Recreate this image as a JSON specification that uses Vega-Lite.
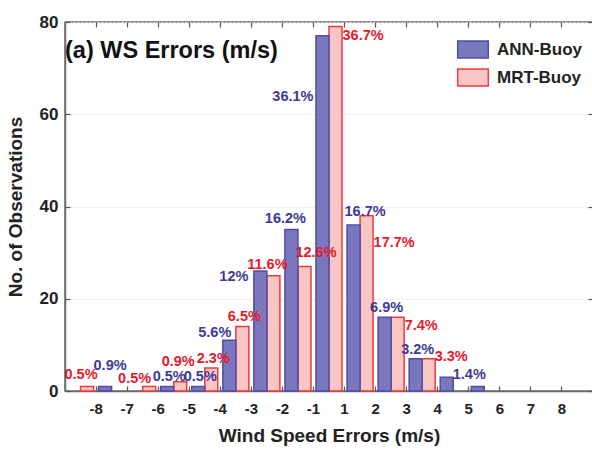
{
  "$schema": "https://vega.github.io/schema/vega-lite/v6.json",
  "width": 528,
  "height": 369,
  "autosize": {"type": "none"},
  "padding": {"left": 65, "top": 22, "right": 0, "bottom": 58},
  "background": "white",
  "config": {
    "font": "Liberation Sans",
    "view": {"stroke": "#6b6b6b", "strokeWidth": 1.5}
  },
  "title": {
    "text": "(a) WS Errors (m/s)",
    "anchor": "start",
    "frame": "group",
    "orient": "top",
    "offset": 0,
    "dx": 0,
    "dy": 49,
    "fontSize": 23.5,
    "fontWeight": "bold",
    "color": "#111111",
    "font": "Liberation Sans"
  },
  "data": {
    "values": [
      {"bin": -8, "series": "MRT-Buoy", "count": 1, "pct": "0.5%"},
      {"bin": -6, "series": "MRT-Buoy", "count": 1, "pct": "0.5%"},
      {"bin": -5, "series": "MRT-Buoy", "count": 2, "pct": "0.9%"},
      {"bin": -4, "series": "MRT-Buoy", "count": 5, "pct": "2.3%"},
      {"bin": -3, "series": "MRT-Buoy", "count": 14, "pct": "6.5%"},
      {"bin": -2, "series": "MRT-Buoy", "count": 25, "pct": "11.6%"},
      {"bin": -1, "series": "MRT-Buoy", "count": 27, "pct": "12.6%"},
      {"bin": 1, "series": "MRT-Buoy", "count": 79, "pct": "36.7%"},
      {"bin": 2, "series": "MRT-Buoy", "count": 38, "pct": "17.7%"},
      {"bin": 3, "series": "MRT-Buoy", "count": 16, "pct": "7.4%"},
      {"bin": 4, "series": "MRT-Buoy", "count": 7, "pct": "3.3%"},
      {"bin": -8, "series": "ANN-Buoy", "count": 1, "pct": "0.9%"},
      {"bin": -6, "series": "ANN-Buoy", "count": 1, "pct": "0.5%"},
      {"bin": -5, "series": "ANN-Buoy", "count": 1, "pct": "0.5%"},
      {"bin": -4, "series": "ANN-Buoy", "count": 11, "pct": "5.6%"},
      {"bin": -3, "series": "ANN-Buoy", "count": 26, "pct": "12%"},
      {"bin": -2, "series": "ANN-Buoy", "count": 35, "pct": "16.2%"},
      {"bin": -1, "series": "ANN-Buoy", "count": 77, "pct": "36.1%"},
      {"bin": 1, "series": "ANN-Buoy", "count": 36, "pct": "16.7%"},
      {"bin": 2, "series": "ANN-Buoy", "count": 16, "pct": "6.9%"},
      {"bin": 3, "series": "ANN-Buoy", "count": 7, "pct": "3.2%"},
      {"bin": 4, "series": "ANN-Buoy", "count": 3, "pct": "1.4%"},
      {"bin": 5, "series": "ANN-Buoy", "count": 1, "pct": ""}
    ]
  },
  "encoding": {
    "x": {
      "field": "bin",
      "type": "ordinal",
      "scale": {"domain": [-8, -7, -6, -5, -4, -3, -2, -1, 1, 2, 3, 4, 5, 6, 7, 8], "paddingInner": 0, "paddingOuter": 0.5}
    },
    "xOffset": {
      "field": "series",
      "type": "nominal",
      "scale": {"domain": ["MRT-Buoy", "ANN-Buoy"], "paddingInner": 0.278, "paddingOuter": 0}
    },
    "y": {
      "field": "count",
      "type": "quantitative",
      "scale": {"domain": [0, 80], "nice": false}
    }
  },
  "layer": [
    {
      "mark": {"type": "bar", "strokeWidth": 1.5},
      "encoding": {
        "x": {
          "field": "bin",
          "type": "ordinal",
          "axis": {
            "title": "Wind Speed Errors (m/s)",
            "titleFontSize": 19,
            "titleFontWeight": "bold",
            "titleColor": "#222222",
            "titlePadding": 10,
            "labelAngle": 0,
            "labelFontSize": 15,
            "labelFontWeight": "bold",
            "labelColor": "#222222",
            "labelPadding": 15,
            "domainColor": "#6b6b6b",
            "domainWidth": 1.5,
            "tickColor": "#555555",
            "tickSize": -5,
            "tickWidth": 1.2
          }
        },
        "y": {
          "field": "count",
          "type": "quantitative",
          "axis": {
            "title": "No. of Observations",
            "titleFontSize": 19,
            "titleFontWeight": "bold",
            "titleColor": "#222222",
            "titlePadding": 14,
            "values": [0, 20, 40, 60, 80],
            "labelFontSize": 17,
            "labelFontWeight": "bold",
            "labelColor": "#222222",
            "labelPadding": 12,
            "grid": true,
            "gridColor": "#e2dcdc",
            "gridDash": [2, 2],
            "domainColor": "#6b6b6b",
            "domainWidth": 1.5,
            "tickColor": "#555555",
            "tickSize": -5,
            "tickWidth": 1.2
          }
        },
        "fill": {
          "field": "series",
          "type": "nominal",
          "scale": {"domain": ["ANN-Buoy", "MRT-Buoy"], "range": ["#7b77bd", "#f9c6c6"]},
          "legend": {
            "orient": "none",
            "legendX": 398.5,
            "legendY": 18,
            "title": null,
            "padding": 0,
            "symbolType": "M-1.8,-1H1.8V1H-1.8Z",
            "symbolSize": 289,
            "symbolStrokeWidth": 1.5,
            "symbolOpacity": 1,
            "labelFontSize": 17,
            "labelFont": "Liberation Sans",
            "labelFontWeight": "bold",
            "labelColor": "#222222",
            "labelOffset": 14.5,
            "rowPadding": 5
          }
        },
        "stroke": {
          "field": "series",
          "type": "nominal",
          "scale": {"domain": ["ANN-Buoy", "MRT-Buoy"], "range": ["#524ca6", "#ee3b3b"]},
          "legend": {
            "orient": "none",
            "legendX": 398.5,
            "legendY": 18,
            "title": null,
            "padding": 0,
            "symbolType": "M-1.8,-1H1.8V1H-1.8Z",
            "symbolSize": 289,
            "symbolStrokeWidth": 1.5,
            "symbolOpacity": 1,
            "labelFontSize": 17,
            "labelFont": "Liberation Sans",
            "labelFontWeight": "bold",
            "labelColor": "#222222",
            "labelOffset": 14.5,
            "rowPadding": 5
          }
        }
      }
    },
    {
      "mark": {"type": "point", "opacity": 0},
      "encoding": {
        "x": {"field": "bin", "type": "ordinal", "axis": {"orient": "top", "labels": false, "title": null, "domain": false, "tickColor": "#555555", "tickSize": -5, "tickWidth": 1.2}},
        "y": {"field": "count", "type": "quantitative", "axis": {"orient": "right", "labels": false, "title": null, "domain": false, "values": [0, 20, 40, 60, 80], "tickColor": "#555555", "tickSize": -5, "tickWidth": 1.2}}
      }
    },
    {
      "transform": [{"filter": "(datum.series=='MRT-Buoy' && indexof([-8,-2],datum.bin)>=0) || (datum.series=='ANN-Buoy' && datum.bin==-2)"}],
      "mark": {"type": "text", "fontSize": 14.5, "fontWeight": "bold", "font": "Liberation Sans", "baseline": "middle", "align": "center", "dx": -6, "dy": -11},
      "encoding": {
        "x": {"field": "bin", "type": "ordinal", "axis": null},
        "y": {"field": "count", "type": "quantitative", "axis": null},
        "text": {"field": "pct"},
        "color": {"condition": {"test": "datum.series=='ANN-Buoy'", "value": "#3d3a98"}, "value": "#e8192c"}
      }
    },
    {
      "transform": [{"filter": "(datum.series=='MRT-Buoy' && indexof([-4,-3],datum.bin)>=0) || (datum.series=='ANN-Buoy' && indexof([-6,-5,2,3],datum.bin)>=0)"}],
      "mark": {"type": "text", "fontSize": 14.5, "fontWeight": "bold", "font": "Liberation Sans", "baseline": "middle", "align": "center", "dx": 2, "dy": -9},
      "encoding": {
        "x": {"field": "bin", "type": "ordinal", "axis": null},
        "y": {"field": "count", "type": "quantitative", "axis": null},
        "text": {"field": "pct"},
        "color": {"condition": {"test": "datum.series=='ANN-Buoy'", "value": "#3d3a98"}, "value": "#e8192c"}
      }
    },
    {
      "transform": [{"filter": "datum.series=='MRT-Buoy' && datum.bin==-5"}],
      "mark": {"type": "text", "fontSize": 14.5, "fontWeight": "bold", "font": "Liberation Sans", "baseline": "middle", "align": "center", "dx": -2, "dy": -20},
      "encoding": {
        "x": {"field": "bin", "type": "ordinal", "axis": null},
        "y": {"field": "count", "type": "quantitative", "axis": null},
        "text": {"field": "pct"},
        "color": {"value": "#e8192c"}
      }
    },
    {
      "transform": [{"filter": "datum.series=='ANN-Buoy' && datum.bin==-8"}],
      "mark": {"type": "text", "fontSize": 14.5, "fontWeight": "bold", "font": "Liberation Sans", "baseline": "middle", "align": "center", "dx": 5, "dy": -20},
      "encoding": {
        "x": {"field": "bin", "type": "ordinal", "axis": null},
        "y": {"field": "count", "type": "quantitative", "axis": null},
        "text": {"field": "pct"},
        "color": {"value": "#3d3a98"}
      }
    },
    {
      "transform": [{"filter": "(datum.series=='MRT-Buoy' && datum.bin==-6) || (datum.series=='ANN-Buoy' && datum.bin==-4)"}],
      "mark": {"type": "text", "fontSize": 14.5, "fontWeight": "bold", "font": "Liberation Sans", "baseline": "middle", "align": "right", "dx": 2, "dy": -7},
      "encoding": {
        "x": {"field": "bin", "type": "ordinal", "axis": null},
        "y": {"field": "count", "type": "quantitative", "axis": null},
        "text": {"field": "pct"},
        "color": {"condition": {"test": "datum.series=='ANN-Buoy'", "value": "#3d3a98"}, "value": "#e8192c"}
      }
    },
    {
      "transform": [{"filter": "datum.series=='ANN-Buoy' && datum.bin==-3"}],
      "mark": {"type": "text", "fontSize": 14.5, "fontWeight": "bold", "font": "Liberation Sans", "baseline": "middle", "align": "right", "dx": -12, "dy": 6},
      "encoding": {
        "x": {"field": "bin", "type": "ordinal", "axis": null},
        "y": {"field": "count", "type": "quantitative", "axis": null},
        "text": {"field": "pct"},
        "color": {"value": "#3d3a98"}
      }
    },
    {
      "transform": [{"filter": "datum.series=='ANN-Buoy' && datum.bin==-1"}],
      "mark": {"type": "text", "fontSize": 14.5, "fontWeight": "bold", "font": "Liberation Sans", "baseline": "middle", "align": "right", "dx": -9, "dy": 61},
      "encoding": {
        "x": {"field": "bin", "type": "ordinal", "axis": null},
        "y": {"field": "count", "type": "quantitative", "axis": null},
        "text": {"field": "pct"},
        "color": {"value": "#3d3a98"}
      }
    },
    {
      "transform": [{"filter": "datum.series=='MRT-Buoy' && indexof([1,3],datum.bin)>=0"}],
      "mark": {"type": "text", "fontSize": 14.5, "fontWeight": "bold", "font": "Liberation Sans", "baseline": "middle", "align": "left", "dx": 7, "dy": 9},
      "encoding": {
        "x": {"field": "bin", "type": "ordinal", "axis": null},
        "y": {"field": "count", "type": "quantitative", "axis": null},
        "text": {"field": "pct"},
        "color": {"value": "#e8192c"}
      }
    },
    {
      "transform": [{"filter": "datum.bin==4"}],
      "mark": {"type": "text", "fontSize": 14.5, "fontWeight": "bold", "font": "Liberation Sans", "baseline": "middle", "align": "left", "dx": 6, "dy": -2},
      "encoding": {
        "x": {"field": "bin", "type": "ordinal", "axis": null},
        "y": {"field": "count", "type": "quantitative", "axis": null},
        "text": {"field": "pct"},
        "color": {"condition": {"test": "datum.series=='ANN-Buoy'", "value": "#3d3a98"}, "value": "#e8192c"}
      }
    },
    {
      "transform": [{"filter": "datum.series=='MRT-Buoy' && datum.bin==2"}],
      "mark": {"type": "text", "fontSize": 14.5, "fontWeight": "bold", "font": "Liberation Sans", "baseline": "middle", "align": "left", "dx": 7, "dy": 27},
      "encoding": {
        "x": {"field": "bin", "type": "ordinal", "axis": null},
        "y": {"field": "count", "type": "quantitative", "axis": null},
        "text": {"field": "pct"},
        "color": {"value": "#e8192c"}
      }
    },
    {
      "transform": [{"filter": "(datum.series=='MRT-Buoy' && datum.bin==-1) || (datum.series=='ANN-Buoy' && datum.bin==1)"}],
      "mark": {"type": "text", "fontSize": 14.5, "fontWeight": "bold", "font": "Liberation Sans", "baseline": "middle", "align": "left", "dx": -9, "dy": -13},
      "encoding": {
        "x": {"field": "bin", "type": "ordinal", "axis": null},
        "y": {"field": "count", "type": "quantitative", "axis": null},
        "text": {"field": "pct"},
        "color": {"condition": {"test": "datum.series=='ANN-Buoy'", "value": "#3d3a98"}, "value": "#e8192c"}
      }
    }
  ],
  "resolve": {"axis": {"x": "independent", "y": "independent"}}
}
